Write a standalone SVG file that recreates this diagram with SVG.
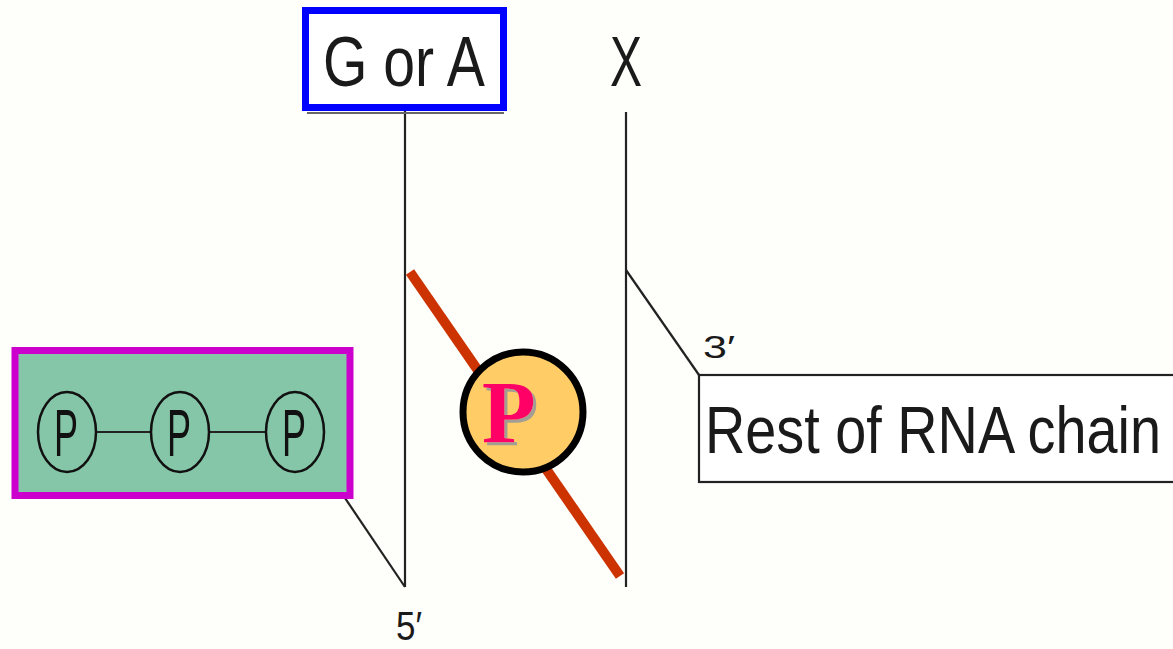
<svg xmlns="http://www.w3.org/2000/svg" width="1173" height="649" viewBox="0 0 1173 649">
<defs>
<style>
.ln{stroke:#222;stroke-width:2.2;fill:none}
.lbl{font-family:"Liberation Sans",Arial,sans-serif;fill:#1a1a1a}
.pc{fill:none;stroke:#111;stroke-width:2.5}
.pt{font-family:"Liberation Sans",Arial,sans-serif;font-size:66px;fill:#111;text-anchor:middle}
</style>
<filter id="sh" x="-20%" y="-20%" width="150%" height="150%">
<feDropShadow dx="3" dy="3" stdDeviation="0.5" flood-color="#999999" flood-opacity="0.9"/>
</filter>
</defs>
<rect width="1173" height="649" fill="#fefefb"/>
<g id="connectors">
<line class="ln" x1="405" y1="110" x2="405" y2="587"/>
<line class="ln" x1="626" y1="112" x2="626" y2="587"/>
<line class="ln" x1="318" y1="458" x2="405" y2="587"/>
<line class="ln" x1="626" y1="270" x2="699" y2="375"/>
<line x1="410" y1="272" x2="620" y2="576" stroke="#cc3300" stroke-width="10"/>
</g>
<g id="node-g-or-a">
<line x1="307" y1="113" x2="504" y2="113" stroke="#666" stroke-width="2"/>
<rect x="305.5" y="10.5" width="198" height="97" fill="#fff" stroke="#0000ff" stroke-width="7"/>
<text class="lbl" x="323" y="86" font-size="70" textLength="162" lengthAdjust="spacingAndGlyphs">G or A</text>
</g>
<g id="node-x">
<text class="lbl" x="610" y="86" font-size="70" textLength="32" lengthAdjust="spacingAndGlyphs">X</text>
</g>
<g id="node-ppp">
<rect x="15" y="350.5" width="335" height="145" fill="#86c6a8" stroke="#cc00cc" stroke-width="7"/>
<line class="ln" x1="96" y1="432" x2="151" y2="432"/>
<line class="ln" x1="209" y1="432" x2="266" y2="432"/>
<ellipse class="pc" cx="67" cy="432" rx="29" ry="40"/>
<ellipse class="pc" cx="180" cy="432" rx="29" ry="40"/>
<ellipse class="pc" cx="295" cy="432" rx="29" ry="40"/>
<text class="pt" x="66" y="456" textLength="24" lengthAdjust="spacingAndGlyphs">P</text>
<text class="pt" x="179" y="456" textLength="24" lengthAdjust="spacingAndGlyphs">P</text>
<text class="pt" x="294" y="456" textLength="24" lengthAdjust="spacingAndGlyphs">P</text>
</g>
<g id="node-p">
<circle cx="523" cy="412" r="60" fill="#ffcc66" stroke="#000" stroke-width="7"/>
<text x="482" y="442" font-family="'Liberation Serif','Times New Roman',serif" font-weight="bold" font-size="88" fill="#ff0066" filter="url(#sh)">P</text>
</g>
<g id="node-rest">
<rect x="699" y="375" width="490" height="107" fill="#fff" stroke="#222" stroke-width="2.2"/>
<text class="lbl" x="705" y="453" font-size="66" textLength="456" lengthAdjust="spacingAndGlyphs">Rest of RNA chain</text>
</g>
<g id="labels">
<text class="lbl" x="703" y="358" font-size="32" textLength="32" lengthAdjust="spacingAndGlyphs">3′</text>
<text class="lbl" x="396" y="640" font-size="40" textLength="26" lengthAdjust="spacingAndGlyphs">5′</text>
</g>
</svg>
